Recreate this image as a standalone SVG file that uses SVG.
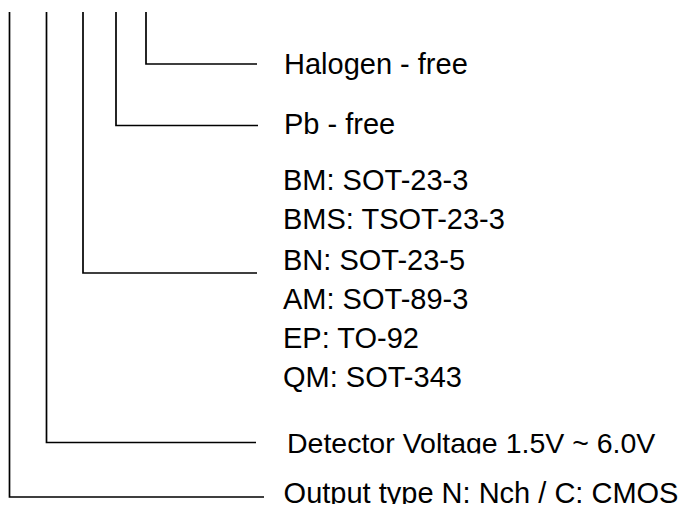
<svg xmlns="http://www.w3.org/2000/svg" width="686" height="508" viewBox="0 0 686 508">
<style>
.ln{fill:none;stroke:#000;stroke-width:1.7}
.t{font-family:"Liberation Sans",Arial,sans-serif;font-size:29px;fill:#000}
</style>
<defs>
<clipPath id="clipDet"><rect x="270" y="420" width="416" height="33.5"/></clipPath>
<clipPath id="clipOut"><rect x="270" y="470" width="416" height="34"/></clipPath>
</defs>
<rect width="686" height="508" fill="#fff"/>
<g id="connectors">
<polyline class="ln" points="146,12 146,64 257,64"/>
<polyline class="ln" points="116,12 116,125.5 258,125.5"/>
<polyline class="ln" points="83,12 83,273 257,273"/>
<polyline class="ln" points="46.5,12 46.5,442.5 256,442.5"/>
<polyline class="ln" points="9.5,12 9.5,497 264,497"/>
</g>
<g id="halogen"><text class="t" x="284" y="73.5">Halogen - free</text></g>
<g id="pb"><text class="t" x="284" y="134.3">Pb - free</text></g>
<g id="package">
<text class="t" x="283" y="189.5">BM: SOT-23-3</text>
<text class="t" x="283" y="229">BMS: TSOT-23-3</text>
<text class="t" x="283" y="269.5">BN: SOT-23-5</text>
<text class="t" x="283" y="308.5">AM: SOT-89-3</text>
<text class="t" x="283" y="348">EP: TO-92</text>
<text class="t" x="283" y="387">QM: SOT-343</text>
</g>
<g id="detector"><text class="t" x="287" y="452.5" style="font-size:28.5px" clip-path="url(#clipDet)">Detector Voltage 1.5V ~ 6.0V</text></g>
<g id="output"><text class="t" x="283.6" y="503" clip-path="url(#clipOut)">Output type N: Nch / C: CMOS</text></g>
</svg>
